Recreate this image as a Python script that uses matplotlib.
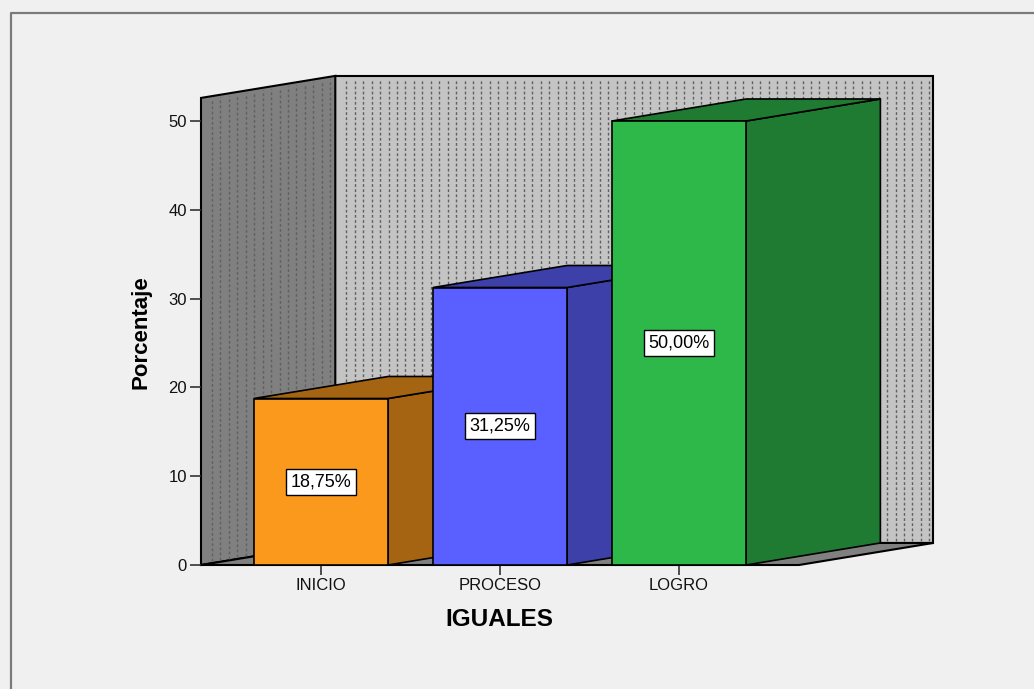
import matplotlib
matplotlib.use('Agg')
import matplotlib.pyplot as plt
from matplotlib.lines import Line2D
from matplotlib.patches import Polygon
import numpy as np

plt.rcParams['font.family'] = ['Liberation Sans', 'DejaVu Sans']

categories = ['INICIO', 'PROCESO', 'LOGRO']
percent = [18.75, 31.25, 50.00]
labels = ['18,75%', '31,25%', '50,00%']
front_colors = ['#FB991C', '#5A60FF', '#2EB84A']
side_colors = ['#A56412', '#3C40A8', '#1F7A32']
top_colors = ['#A56412', '#3C40A8', '#1F7A32']
y_ticks = [0, 10, 20, 30, 40, 50]

bg = '#F0F0F0'
W, H = 1034, 689

# 3d look: everything is pushed back by this much, in data units
xmin, xmax = -0.670, 2.670
ymax = 52.6
depth_x = 0.75
depth_y = 2.48
bar_w = 0.749

fig = plt.figure(figsize=(W / 100, H / 100), dpi=100, facecolor=bg)
ax = fig.add_axes([201 / W, 1 - 565 / H, 598 / W, 444 / H])
ax.set_xlim(xmin, xmax)
ax.set_ylim(0, 50)
ax.patch.set_visible(False)
for s in ax.spines.values():
    s.set_visible(False)


def poly(pts, color, z, lw=1.2):
    ax.add_patch(Polygon(pts, closed=True, facecolor=color, edgecolor='black',
                         lw=lw, zorder=z, clip_on=False, joinstyle='miter'))


# back wall, left wall, floor
poly([(xmin + depth_x, depth_y), (xmax + depth_x, depth_y),
      (xmax + depth_x, ymax + depth_y), (xmin + depth_x, ymax + depth_y)], '#C4C4C4', 1, 1.5)
poly([(xmin, 0), (xmin + depth_x, depth_y), (xmin + depth_x, ymax + depth_y), (xmin, ymax)], '#808080', 1, 1.5)
poly([(xmin, 0), (xmax, 0), (xmax + depth_x, depth_y), (xmin + depth_x, depth_y)], '#808080', 1, 1.5)

# dotted texture of the walls
step = 8.45 * (xmax - xmin) / 598
dots = dict(colors='#606060', linewidth=1.0, linestyles=[(0, (2.0, 1.7))], zorder=2, clip_on=False)
xs = np.arange(xmin + 1.3 * step, xmin + depth_x, step)
ax.vlines(xs, (xs - xmin) / depth_x * depth_y + 0.2, ymax + (xs - xmin) / depth_x * depth_y - 0.3, **dots)
xs = np.arange(xmin + depth_x + 1.3 * step, xmax + depth_x - 0.005, step)
ax.vlines(xs, depth_y + 0.2, ymax + depth_y - 0.3, **dots)

# bars, left to right so the next one hides the side of the previous
for i, v in enumerate(percent):
    x0 = i - bar_w / 2
    x1 = i + bar_w / 2
    z = 3 + i
    poly([(x1, 0), (x1 + depth_x, depth_y), (x1 + depth_x, v + depth_y), (x1, v)], side_colors[i], z)
    poly([(x0, v), (x1, v), (x1 + depth_x, v + depth_y), (x0 + depth_x, v + depth_y)], top_colors[i], z)
    poly([(x0, 0), (x1, 0), (x1, v), (x0, v)], front_colors[i], z)
    ax.text(i, v / 2, labels[i], ha='center', va='center', fontsize=13, color='black', zorder=10,
            bbox=dict(boxstyle='square,pad=0.25', facecolor='white', edgecolor='black', lw=1))

ax.set_xticks(range(len(categories)), categories)
ax.set_yticks(y_ticks)
ax.tick_params(axis='x', length=7.5, width=1.2, color='#333333', labelsize=12, pad=2, labelcolor='#111111')
ax.tick_params(axis='y', length=8, width=1.2, color='#333333', labelsize=12, pad=2, labelcolor='#111111')
ax.set_xlabel('IGUALES', fontsize=17.5, fontweight='bold')
ax.xaxis.set_label_coords((499 - 201) / 598, -(619 - 565) / 444, transform=ax.transAxes)
ax.xaxis.label.set_va('center')
ax.set_ylabel('Porcentaje', fontsize=16, fontweight='bold')
ax.yaxis.set_label_coords((141 - 201) / 598, (565 - 332) / 444, transform=ax.transAxes)
ax.yaxis.label.set_va('center')

# window frame, open on the right and at the bottom
fig.add_artist(Line2D([1, 10.5 / W, 10.5 / W], [1 - 12.5 / H, 1 - 12.5 / H, 0], color='#7A7A7A', lw=1.6))

fig.savefig('out.png', dpi=100, facecolor=bg)
